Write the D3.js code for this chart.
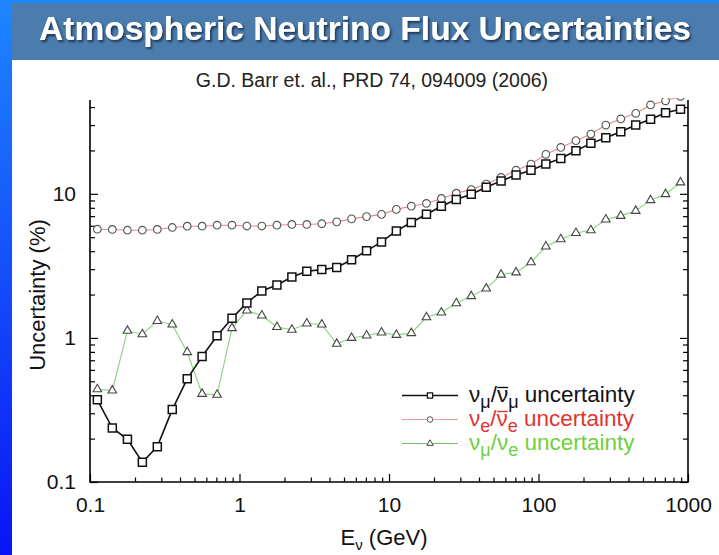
<!DOCTYPE html>
<html>
<head>
<meta charset="utf-8">
<script src="https://cdn.jsdelivr.net/npm/d3@7"></script>
<style>
  html, body { margin: 0; padding: 0; background: #fff; }
  svg { display: block; }
  text { font-family: "Liberation Sans", Arial, Helvetica, sans-serif; }
</style>
</head>
<body>
<svg id="chart" width="719" height="555"></svg>
<script>
// Neutrino energy bin centres (GeV), ten per decade
const energies = [0.112, 0.141, 0.178, 0.224, 0.282, 0.355, 0.447, 0.562, 0.708, 0.891,
                  1.12, 1.41, 1.78, 2.24, 2.82, 3.55, 4.47, 5.62, 7.08, 8.91,
                  11.2, 14.1, 17.8, 22.4, 28.2, 35.5, 44.7, 56.2, 70.8, 89.1,
                  112, 141, 178, 224, 282, 355, 447, 562, 708, 891];

// Uncertainty (%) of the nu_mu / anti-nu_mu ratio
const numuRatio = [0.372, 0.237, 0.198, 0.137, 0.176, 0.318, 0.52, 0.743, 1.035, 1.37,
                   1.75, 2.12, 2.33, 2.65, 2.90, 2.98, 3.08, 3.49, 4.02, 4.64,
                   5.53, 6.33, 7.22, 8.21, 9.14, 9.95, 11.1, 12.3, 13.5, 14.6,
                   16.1, 17.6, 19.9, 22.4, 24.5, 27.0, 30.0, 32.9, 36.6, 38.6];

// Uncertainty (%) of the nu_e / anti-nu_e ratio
const nueRatio = [5.68, 5.66, 5.59, 5.59, 5.66, 5.84, 5.96, 5.96, 6.06, 6.06,
                  5.98, 5.98, 6.06, 6.13, 6.13, 6.2, 6.39, 6.7, 6.95, 7.2,
                  7.8, 8.21, 8.58, 9.29, 10.1, 10.7, 11.7, 13.0, 14.6, 16.1,
                  18.8, 21.0, 23.4, 26.0, 30.0, 33.1, 36.2, 41.4, 44.2, 47.5];

// Uncertainty (%) of the nu_mu / nu_e ratio
const flavourRatio = [0.44, 0.431, 1.12, 1.06, 1.31, 1.24, 0.797, 0.409, 0.403, 1.17,
                      1.55, 1.43, 1.19, 1.14, 1.26, 1.24, 0.91, 1.0, 1.04, 1.09,
                      1.05, 1.08, 1.39, 1.50, 1.74, 1.95, 2.20, 2.75, 2.85, 3.35,
                      4.31, 4.84, 5.35, 5.59, 6.64, 7.03, 7.62, 9.04, 9.95, 12.0];

const xTicks = [0.1, 1, 10, 100, 1000];
const xTickLabels = ["0.1", "1", "10", "100", "1000"];
const yTicks = [0.1, 1, 10];
const yTickLabels = ["0.1", "1", "10"];

const titleText = "Atmospheric Neutrino Flux Uncertainties";
const citationText = "G.D. Barr et. al., PRD 74, 094009 (2006)";

const svg = d3.select("#chart");
const W = 719, H = 555;
const plot = { left: 90, right: 688, top: 100, bottom: 482 };

// ---- slide background ----
const defs = svg.append("defs");
const grad = defs.append("linearGradient").attr("id", "edgeGrad")
  .attr("x1", 0).attr("y1", 0).attr("x2", 0).attr("y2", 1);
grad.append("stop").attr("offset", "0%").attr("stop-color", "#1e86ff");
grad.append("stop").attr("offset", "100%").attr("stop-color", "#0a14f5");

const shadow = defs.append("filter").attr("id", "titleShadow")
  .attr("x", "-5%").attr("y", "-30%").attr("width", "110%").attr("height", "160%");
shadow.append("feDropShadow").attr("dx", 1.5).attr("dy", 2).attr("stdDeviation", 1.2)
  .attr("flood-color", "#0b1a33").attr("flood-opacity", 0.75);

svg.append("rect").attr("x", 0).attr("y", 0).attr("width", W).attr("height", H)
  .attr("fill", "url(#edgeGrad)");
svg.append("rect").attr("x", 12).attr("y", 60).attr("width", W - 12).attr("height", H - 60)
  .attr("fill", "#ffffff");
svg.append("rect").attr("x", 12).attr("y", 3).attr("width", W - 12).attr("height", 57)
  .attr("fill", "#4a7cad");

svg.append("text")
  .attr("x", 365).attr("y", 40)
  .attr("text-anchor", "middle")
  .attr("font-size", 33).attr("font-weight", "bold")
  .attr("fill", "#ffffff")
  .attr("textLength", 652).attr("lengthAdjust", "spacingAndGlyphs")
  .attr("filter", "url(#titleShadow)")
  .text(titleText);

svg.append("text")
  .attr("x", 372).attr("y", 87)
  .attr("text-anchor", "middle")
  .attr("font-size", 19.5)
  .attr("fill", "#222")
  .text(citationText);

// ---- scales ----
const x = d3.scaleLog().domain([0.1, 1000]).range([plot.left, plot.right]);
const y = d3.scaleLog().domain([0.1, 44.8]).range([plot.bottom, plot.top]);

function minorTicks(lo, hi) {
  const out = [];
  for (let d = lo; d < hi; d *= 10) for (let m = 2; m <= 9; m++) out.push(d * m);
  return out;
}
const xMinor = minorTicks(0.1, 1000);
const yMinor = minorTicks(0.1, 100).filter(v => v <= 44.8);

// ---- axes ----
const axisG = svg.append("g");
function styleAxis(g) {
  g.select(".domain").remove();
  g.selectAll("line").attr("stroke", "#000").attr("stroke-width", 1.2);
  g.selectAll("text").attr("font-size", 21).attr("fill", "#111")
    .attr("font-family", '"Liberation Sans", Arial, sans-serif');
}

axisG.append("g").attr("transform", `translate(0,${plot.bottom})`)
  .call(d3.axisBottom(x).tickValues(xTicks).tickSize(-8).tickPadding(15)
    .tickFormat((d, i) => xTickLabels[i]))
  .call(styleAxis);
axisG.append("g").attr("transform", `translate(0,${plot.bottom})`)
  .call(d3.axisBottom(x).tickValues(xMinor).tickSize(-4.5).tickFormat(""))
  .call(styleAxis);

axisG.append("g").attr("transform", `translate(${plot.left},0)`)
  .call(d3.axisLeft(y).tickValues(yTicks).tickSize(-8).tickPadding(14)
    .tickFormat((d, i) => yTickLabels[i]))
  .call(styleAxis);
axisG.append("g").attr("transform", `translate(${plot.left},0)`)
  .call(d3.axisLeft(y).tickValues(yMinor).tickSize(-5).tickFormat(""))
  .call(styleAxis);

axisG.append("g").attr("transform", `translate(${plot.right},0)`)
  .call(d3.axisRight(y).tickValues(yTicks).tickSize(-8).tickFormat(""))
  .call(styleAxis);
axisG.append("g").attr("transform", `translate(${plot.right},0)`)
  .call(d3.axisRight(y).tickValues(yMinor).tickSize(-5).tickFormat(""))
  .call(styleAxis);

// frame: left, bottom and right edges
svg.append("path")
  .attr("d", `M${plot.left},${plot.top}V${plot.bottom}H${plot.right}V${plot.top}`)
  .attr("fill", "none").attr("stroke", "#000").attr("stroke-width", 1.6);

// axis titles
svg.append("text")
  .attr("transform", `translate(45,${(plot.top + plot.bottom) / 2 + 4}) rotate(-90)`)
  .attr("text-anchor", "middle").attr("font-size", 22).attr("fill", "#111")
  .text("Uncertainty (%)");

const xLab = svg.append("text")
  .attr("x", 384).attr("y", 545).attr("text-anchor", "middle")
  .attr("font-size", 22).attr("fill", "#111");
xLab.append("tspan").text("E");
xLab.append("tspan").attr("font-size", 15).attr("dy", 5).text("ν");
xLab.append("tspan").attr("dy", -5).text(" (GeV)");

// ---- data series ----
defs.append("clipPath").attr("id", "plotClip").append("rect")
  .attr("x", plot.left - 10).attr("y", plot.top - 2)
  .attr("width", plot.right - plot.left + 20).attr("height", plot.bottom - plot.top + 12);

const series = [
  { values: nueRatio, line: "#e48a8a", lw: 1.1, marker: "circle", mstroke: "#555", mw: 1.1 },
  { values: flavourRatio, line: "#86d17e", lw: 1.1, marker: "triangle", mstroke: "#444", mw: 1.1 },
  { values: numuRatio, line: "#111", lw: 1.6, marker: "square", mstroke: "#111", mw: 1.5 }
];

const lineGen = d3.line().x(d => x(d[0])).y(d => y(d[1]));
const symbols = {
  circle: d3.symbol(d3.symbolCircle, 46),
  triangle: d3.symbol(d3.symbolTriangle, 32),
  square: d3.symbol(d3.symbolSquare, 64)
};
// smaller markers used in the key
const keySymbols = {
  circle: d3.symbol(d3.symbolCircle, 24),
  triangle: d3.symbol(d3.symbolTriangle, 18),
  square: d3.symbol(d3.symbolSquare, 28)
};

const dataG = svg.append("g").attr("clip-path", "url(#plotClip)");
series.forEach(s => {
  const pts = energies.map((e, i) => [e, s.values[i]]);
  dataG.append("path").datum(pts)
    .attr("d", lineGen).attr("fill", "none")
    .attr("stroke", s.line).attr("stroke-width", s.lw);
  dataG.append("g").selectAll("path").data(pts).join("path")
    .attr("transform", d => `translate(${x(d[0])},${y(d[1])})`)
    .attr("d", symbols[s.marker])
    .attr("fill", "#fff").attr("stroke", s.mstroke).attr("stroke-width", s.mw);
});

// ---- legend ----
// each part: [text, subscript?, overbar?]
const legendRows = [
  { parts: [["ν", 0, 0], ["μ", 1, 0], ["/", 0, 0], ["ν", 0, 1], ["μ", 1, 0], [" uncertainty", 0, 0]],
    color: "#111", line: "#111", lw: 1.6, marker: "square", mstroke: "#111", mw: 1.2 },
  { parts: [["ν", 0, 0], ["e", 1, 0], ["/", 0, 0], ["ν", 0, 1], ["e", 1, 0], [" uncertainty", 0, 0]],
    color: "#e2342f", line: "#ea9a9a", lw: 1.1, marker: "circle", mstroke: "#555", mw: 1.0 },
  { parts: [["ν", 0, 0], ["μ", 1, 0], ["/", 0, 0], ["ν", 0, 0], ["e", 1, 0], [" uncertainty", 0, 0]],
    color: "#6fcf3c", line: "#72c468", lw: 1.1, marker: "triangle", mstroke: "#444", mw: 1.0 }
];
const legend = svg.append("g");
legendRows.forEach((r, i) => {
  const cy = 395.5 + i * 24;
  legend.append("line").attr("x1", 402).attr("x2", 458).attr("y1", cy).attr("y2", cy)
    .attr("stroke", r.line).attr("stroke-width", r.lw);
  legend.append("path").attr("transform", `translate(430,${cy})`)
    .attr("d", keySymbols[r.marker]).attr("fill", "#fff")
    .attr("stroke", r.mstroke).attr("stroke-width", r.mw);
  const t = legend.append("text").attr("x", 469).attr("y", cy + 6.5)
    .attr("font-size", 22.5).attr("fill", r.color);
  let sub = 0, idx = 0;
  const bars = [];
  r.parts.forEach(([txt, isSub, bar]) => {
    const dy = isSub === sub ? 0 : (isSub ? 6 : -6);
    sub = isSub;
    t.append("tspan").attr("dy", dy).attr("font-size", isSub ? 18 : 22.5).text(txt);
    if (bar) bars.push(idx);
    idx += txt.length;
  });
  // overbar for antineutrino symbols
  bars.forEach(ci => {
    const ext = t.node().getExtentOfChar(ci);
    const by = cy - 8;
    legend.append("line")
      .attr("x1", ext.x + 0.5).attr("x2", ext.x + ext.width)
      .attr("y1", by).attr("y2", by)
      .attr("stroke", r.color).attr("stroke-width", 1.4);
  });
});
</script>
</body>
</html>
